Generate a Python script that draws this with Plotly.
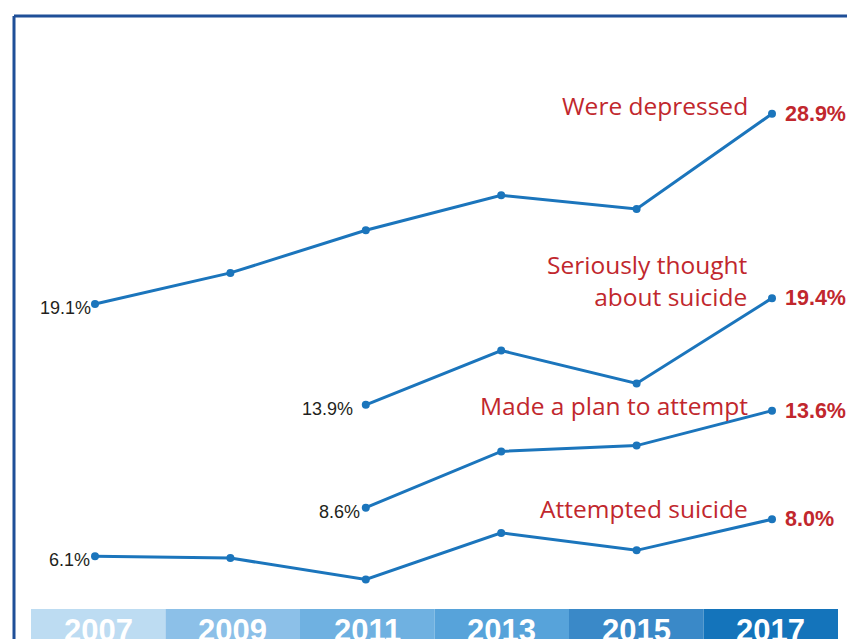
import plotly.graph_objects as go

years = ["2007", "2009", "2011", "2013", "2015", "2017"]
depressed = [19.1, 20.7, 22.9, 24.7, 24.0, 28.9]
thought = [None, None, 13.9, 16.7, 15.0, 19.4]
plan = [None, None, 8.6, 11.5, 11.8, 13.6]
attempted = [6.1, 6.0, 4.9, 7.3, 6.4, 8.0]

series_names = ["Were depressed", "Seriously thought<br>about suicide",
                "Made a plan to attempt", "Attempted suicide"]
series_vals = [depressed, thought, plan, attempted]

band_colors = ["#BDDCF2", "#8CC0E8", "#6FB1E1", "#57A3DA", "#3A89C8", "#1474BB"]

OFF = 8  # browser body margin
W, H = 855 - OFF, 639 - OFF
LINE = "#1B75BC"
RED = "#C1272D"
idx = list(range(len(years)))

fig = go.Figure()
for vals in series_vals:
    xs = [i for i, v in zip(idx, vals) if v is not None]
    ys = [v for v in vals if v is not None]
    fig.add_trace(go.Scatter(x=xs, y=ys, mode="lines+markers",
                             line=dict(color=LINE, width=3),
                             marker=dict(color=LINE, size=8),
                             hoverinfo="skip", showlegend=False))

name_shift = [8, 18, 5, 11]
left_xshift = [-2, -11, -4, -3]
for k, (name, vals) in enumerate(zip(series_names, series_vals)):
    first = next(i for i, v in enumerate(vals) if v is not None)
    last = len(vals) - 1
    fig.add_annotation(x=first, y=vals[first], text=f"{vals[first]:.1f}%",
                       xanchor="right", yanchor="middle", showarrow=False,
                       xshift=left_xshift[k], yshift=-4,
                       font=dict(family="Liberation Sans, Arial", size=18, color="#231F20"))
    fig.add_annotation(x=last, y=vals[last], text=f"<b>{vals[last]:.1f}%</b>",
                       xanchor="left", yanchor="middle", showarrow=False,
                       xshift=11, yshift=0,
                       font=dict(family="Liberation Sans, Arial", size=21.5, color=RED))
    fig.add_annotation(x=last, y=vals[last], text=name,
                       xanchor="right", yanchor="middle", align="right",
                       showarrow=False, xshift=-22, yshift=name_shift[k],
                       font=dict(family="Open Sans", size=24.5, color=RED))

# year band
bx0, bw, btop = 31 - OFF, 134.5, 609 - OFF
for i, (yr, c) in enumerate(zip(years, band_colors)):
    x0 = (bx0 + bw * i) / W
    x1 = (bx0 + bw * (i + 1)) / W
    fig.add_shape(type="rect", xref="paper", yref="paper", x0=x0, x1=x1,
                  y0=0, y1=1 - btop / H, fillcolor=c, line=dict(width=0), layer="below")
    fig.add_annotation(xref="paper", yref="paper", x=(x0 + x1) / 2, y=1 - 603 / H,
                       text=f"<b>{yr}</b>", showarrow=False, xanchor="center", yanchor="top",
                       font=dict(family="Liberation Sans Narrow, Liberation Sans, Arial", size=31, color="white"))

# frame
BORDER = "#1F4F98"
bl, bt = (14 - OFF) / W, 1 - (16 - OFF) / H
fig.add_shape(type="line", xref="paper", yref="paper", x0=bl, x1=bl,
              y0=0, y1=bt, line=dict(color=BORDER, width=3))
fig.add_shape(type="line", xref="paper", yref="paper", x0=bl, x1=1,
              y0=bt, y1=bt, line=dict(color=BORDER, width=3))

px0 = 95 - OFF
zero_px = 674.5 - OFF
fig.update_layout(
    width=W, height=H, margin=dict(l=0, r=0, t=0, b=0),
    paper_bgcolor="white", plot_bgcolor="white",
    xaxis=dict(range=[-px0 / 135.4, -px0 / 135.4 + W / 135.4], visible=False, fixedrange=True),
    yaxis=dict(range=[(zero_px - H) / 19.4, zero_px / 19.4], visible=False, fixedrange=True),
)
fig.write_html("out.html", config={"displayModeBar": False})
